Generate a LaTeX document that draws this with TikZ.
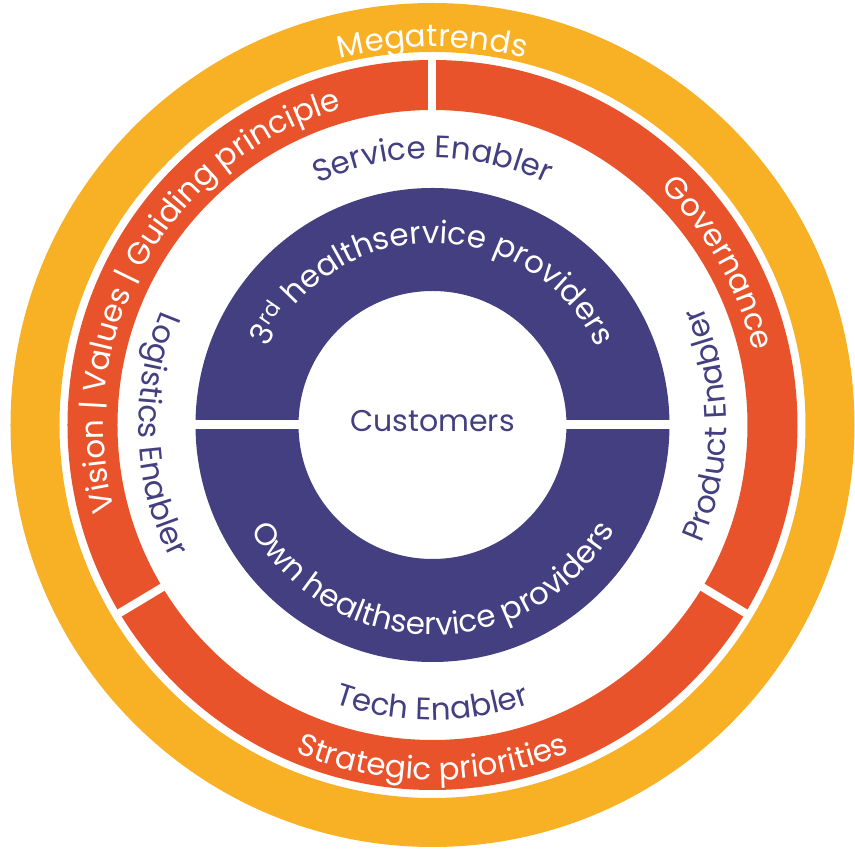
\documentclass[tikz,border=0pt]{standalone}
\usepackage{fontspec}
\setmainfont{Poppins}
\usetikzlibrary{decorations.text}
\definecolor{trendyellow}{HTML}{F8B124}
\definecolor{stratorange}{HTML}{E9532B}
\definecolor{carepurple}{HTML}{433F80}
\tikzstyle{band}=[even odd rule]
\tikzstyle{cut}=[draw=white,line width=8pt]
\newcommand{\ringfont}{\fontsize{31}{33}\selectfont}
% text on an arc, read clockwise (letters stand outward)
\newcommand{\cwlabel}[4]{%
  \path[decorate,decoration={text along path,text align=center,text color=#3,
    text format delimiters={[}{]},text={[\ringfont]#4}}]
    (#1+90:#2) arc[start angle=#1+90,end angle=#1-90,radius=#2];}
% text on an arc, read anticlockwise (letters stand inward)
\newcommand{\ccwlabel}[4]{%
  \path[decorate,decoration={text along path,text align=center,text color=#3,
    text format delimiters={[}{]},text={[\ringfont]#4}}]
    (#1-90:#2) arc[start angle=#1-90,end angle=#1+90,radius=#2];}

\begin{document}
\begin{tikzpicture}[x=1pt,y=1pt]
    \useasboundingbox (-432.5,-425) rectangle (422.5,425);
    \coordinate (c) at (0,0);

    % First we draw the rings
    \fill[band,trendyellow] (c) circle[radius=422] (c) circle[radius=373];
    \fill[band,stratorange] (c) circle[radius=365] (c) circle[radius=315];
    \fill[band,carepurple] (c) circle[radius=237] (c) circle[radius=134];

    % Cut the rings into parts
    \foreach \ang in {90,211,329}
        \draw[cut] (\ang:308) -- (\ang:370);
    \draw[cut,line width=9pt] (180:242) -- (0:242);

    % Labels on the rings
    \cwlabel{90}{378}{white}{Megatrends}
    \cwlabel{150.5}{329}{white}{Vision | Values | Guiding principle}
    \cwlabel{29.5}{329}{white}{Governance}
    \ccwlabel{270}{355}{white}{Strategic priorities}

    \cwlabel{90}{267}{carepurple}{Service Enabler}
    \ccwlabel{270}{295}{carepurple}{Tech Enabler}
    \ccwlabel{182}{294}{carepurple}{Logistics Enabler}
    \ccwlabel{0}{294}{carepurple}{Product Enabler}

    \cwlabel{90}{182}{white}{3{\textsuperscript{rd}} healthservice providers}
    \ccwlabel{270}{210}{white}{Own healthservice providers}

    \node[text=carepurple,font=\fontsize{30}{32}\selectfont] (cust) at (0,4) {Customers};
\end{tikzpicture}
\end{document}
